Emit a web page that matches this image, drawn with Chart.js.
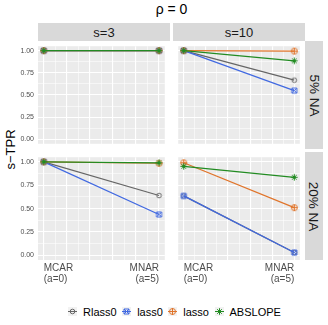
<!DOCTYPE html>
<html>
<head>
<meta charset="utf-8">
<script src="https://cdn.jsdelivr.net/npm/chart.js@4"></script>
<style>
  body { margin: 0; width: 328px; height: 325px; background: #fff; position: relative; overflow: hidden;
         font-family: "Liberation Sans", Arial, sans-serif; }
  canvas { position: absolute; }
  .txt { position: absolute; white-space: nowrap; }
  .strip { position: absolute; background: #D9D9D9; color: #1A1A1A; display: flex; align-items: center; justify-content: center; }
  .vtext { white-space: nowrap; transform: rotate(90deg); }
  #legend { position: absolute; left: 68px; top: 304px; height: 15px; display: flex; align-items: center; font-size: 11px; color: #000; }
  #legend .item { display: flex; align-items: center; margin-right: 5.5px; }
  #legend canvas { position: static; margin-right: 6px; }
</style>
</head>
<body>
<div class="txt" style="left:38px;width:267px;top:1px;text-align:center;font-size:14px;">ρ = 0</div>
<div class="txt" style="left:-50px;width:120px;top:142px;text-align:center;font-size:13px;transform:rotate(-90deg);">s−TPR</div>

<div class="strip" style="left:38px;top:23px;width:132px;height:18px;font-size:13px;">s=3</div>
<div class="strip" style="left:173px;top:23px;width:132px;height:18px;font-size:13px;">s=10</div>
<div class="strip" style="left:305px;top:41px;width:18px;height:108px;font-size:13.5px;"><div class="vtext">5% NA</div></div>
<div class="strip" style="left:305px;top:152px;width:18px;height:108px;font-size:13.5px;"><div class="vtext">20% NA</div></div>

<canvas id="p11" width="170" height="108" style="left:0;top:41px;"></canvas>
<canvas id="p12" width="132" height="108" style="left:173px;top:41px;"></canvas>
<canvas id="p21" width="170" height="135" style="left:0;top:152px;"></canvas>
<canvas id="p22" width="132" height="135" style="left:173px;top:152px;"></canvas>

<div id="legend"></div>

<script>
// methods in legend order
const methods = ['Rlass0', 'lass0', 'lasso', 'ABSLOPE'];
const colors = ['#666666', '#4169E1', '#E0742A', '#228B22'];
const aValues = [0, 5];
const xLabels = [['MCAR', '(a=0)'], ['MNAR', '(a=5)']];
const yTicks = [0, 0.25, 0.5, 0.75, 1];

// s-TPR per method, [a=0, a=5]
const s3NA5  = [[1.00, 1.00], [1.00, 1.00], [1.00, 1.00], [1.00, 1.00]];
const s10NA5 = [[1.00, 0.667], [1.00, 0.55], [1.00, 0.995], [1.00, 0.885]];
const s3NA20 = [[1.00, 0.64], [1.00, 0.437], [1.00, 0.985], [1.00, 0.99]];
const s10NA20 = [[0.636, 0.03], [0.636, 0.03], [0.99, 0.51], [0.952, 0.835]];

// grid positions (major + minor, like ggplot)
const xGrid = [0, 0.5, 1, 1.5, 2, 2.5, 3, 3.5, 4, 4.5, 5];
const yGrid = [0, 0.125, 0.25, 0.375, 0.5, 0.625, 0.75, 0.875, 1];

function shape(kind, color) {
  const c = document.createElement('canvas');
  c.width = 9; c.height = 9;
  const g = c.getContext('2d');
  g.strokeStyle = color; g.lineWidth = 1;
  g.beginPath();
  if (kind === 'circle') {
    g.arc(4.5, 4.5, 2.3, 0, Math.PI * 2);
  } else if (kind === 'squareX') {
    g.rect(2, 2, 5, 5);
    g.moveTo(2, 2); g.lineTo(7, 7);
    g.moveTo(7, 2); g.lineTo(2, 7);
  } else if (kind === 'circlePlus') {
    g.arc(4.5, 4.5, 3, 0, Math.PI * 2);
    g.moveTo(1, 4.5); g.lineTo(8, 4.5);
    g.moveTo(4.5, 1); g.lineTo(4.5, 8);
  } else {
    g.moveTo(1.2, 4.5); g.lineTo(7.8, 4.5);
    g.moveTo(4.5, 1.2); g.lineTo(4.5, 7.8);
    g.moveTo(2.2, 2.2); g.lineTo(6.8, 6.8);
    g.moveTo(6.8, 2.2); g.lineTo(2.2, 6.8);
  }
  g.stroke();
  return c;
}
const shapes = [
  shape('circle', colors[0]),
  shape('squareX', colors[1]),
  shape('circlePlus', colors[2]),
  shape('asterisk', colors[3])
];

const panelBg = {
  id: 'panelBg',
  beforeDraw(chart) {
    const { ctx, chartArea: a } = chart;
    ctx.save();
    ctx.fillStyle = '#EBEBEB';
    ctx.fillRect(a.left, a.top, a.right - a.left, a.bottom - a.top);
    ctx.restore();
  }
};

function makePanel(id, series, showY, showX) {
  new Chart(document.getElementById(id), {
    type: 'line',
    data: {
      datasets: methods.map((m, i) => ({
        label: m,
        data: aValues.map((a, j) => ({ x: a, y: series[i][j] })),
        borderColor: colors[i],
        backgroundColor: colors[i],
        borderWidth: 1.2,
        pointStyle: shapes[i],
        pointRadius: 4,
        order: methods.length - 1 - i,
        clip: false
      }))
    },
    options: {
      responsive: false,
      animation: false,
      layout: { padding: 0 },
      plugins: { legend: { display: false }, tooltip: { enabled: false } },
      scales: {
        x: {
          type: 'linear', min: -0.25, max: 5.25,
          afterBuildTicks: s => { s.ticks = xGrid.map(v => ({ value: v })); },
          afterFit: s => { s.height = showX ? 27 : 0; s.paddingLeft = 0; s.paddingRight = 0; },
          border: { display: false },
          grid: {
            color: '#FFFFFF', drawTicks: false,
            lineWidth: c => (c.tick && Number.isInteger(c.tick.value)) ? 1.1 : 0.55
          },
          ticks: {
            display: showX, align: 'inner', padding: 3, autoSkip: false, maxRotation: 0,
            color: '#4D4D4D', font: { size: 10, family: '"Liberation Sans", Arial, sans-serif', lineHeight: 1.05 },
            callback: v => v === 0 ? xLabels[0] : (v === 5 ? xLabels[1] : '')
          }
        },
        y: {
          type: 'linear', min: -0.05, max: 1.05,
          afterBuildTicks: s => { s.ticks = yGrid.map(v => ({ value: v })); },
          afterFit: s => { s.width = showY ? 38 : 0; s.paddingTop = 0; s.paddingBottom = 0; },
          border: { display: false },
          grid: {
            color: '#FFFFFF', drawTicks: false,
            lineWidth: c => (c.tick && yTicks.includes(c.tick.value)) ? 1.1 : 0.55
          },
          ticks: {
            display: showY, padding: 4, autoSkip: false,
            color: '#4D4D4D', font: { size: 7, family: '"Liberation Sans", Arial, sans-serif' },
            callback: v => yTicks.includes(v) ? v.toFixed(2) : ''
          }
        }
      }
    },
    plugins: [panelBg]
  });
}

makePanel('p11', s3NA5, true, false);
makePanel('p12', s10NA5, false, false);
makePanel('p21', s3NA20, true, true);
makePanel('p22', s10NA20, false, true);

// legend keys
const legend = document.getElementById('legend');
methods.forEach((m, i) => {
  const item = document.createElement('div');
  item.className = 'item';
  const key = document.createElement('canvas');
  key.width = 9; key.height = 9;
  const g = key.getContext('2d');
  g.fillStyle = '#F2F2F2';
  g.fillRect(0, 0, 9, 9);
  g.strokeStyle = colors[i]; g.lineWidth = 1;
  g.beginPath(); g.moveTo(0, 4.5); g.lineTo(9, 4.5); g.stroke();
  g.drawImage(shapes[i], 0, 0);
  const label = document.createElement('span');
  label.textContent = m;
  item.appendChild(key);
  item.appendChild(label);
  legend.appendChild(item);
});
</script>
</body>
</html>
